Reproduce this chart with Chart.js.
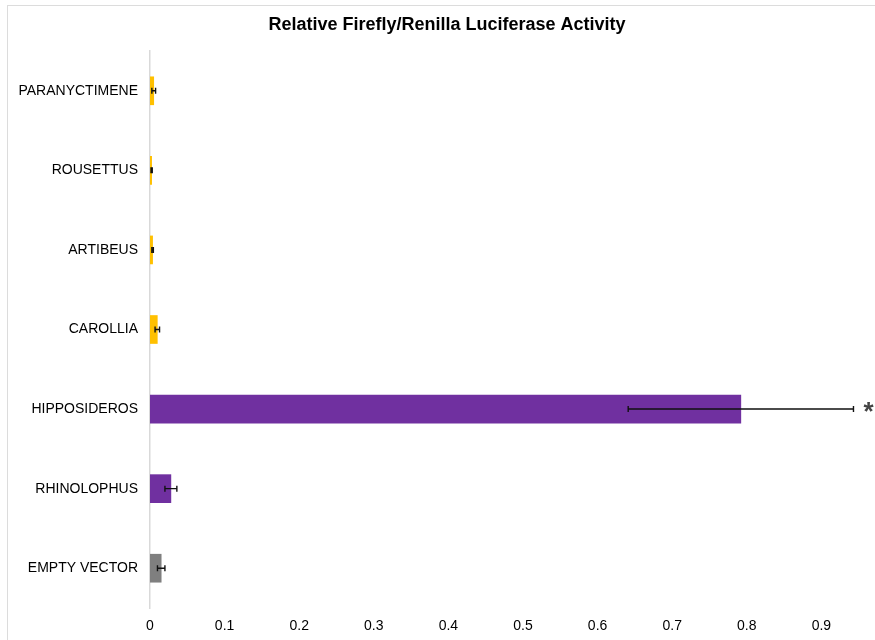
<!DOCTYPE html>
<html>
<head>
<meta charset="utf-8">
<script src="https://cdn.jsdelivr.net/npm/chart.js@4.4.0/dist/chart.umd.min.js"></script>
<style>
    html, body { margin: 0; padding: 0; background: #fff; overflow: hidden; }
    #wrap { position: relative; width: 875px; height: 640px; overflow: hidden; }
    #frame { position: absolute; left: 7px; top: 5px; width: 1000px; height: 700px;
             border-left: 1px solid #dcdcdc; border-top: 1px solid #dcdcdc; }
    #box { position: absolute; left: -20px; top: 0; width: 930px; height: 640px; }
</style>
</head>
<body>
<div id="wrap">
    <div id="frame"></div>
    <div id="box"><canvas id="chart"></canvas></div>
</div>
<script>
const categories = ['PARANYCTIMENE', 'ROUSETTUS', 'ARTIBEUS', 'CAROLLIA', 'HIPPOSIDEROS', 'RHINOLOPHUS', 'EMPTY VECTOR'];
const activity = [0.005, 0.0022, 0.0035, 0.0098, 0.792, 0.028, 0.015];
const errors = [0.0025, 0.0008, 0.001, 0.003, 0.151, 0.008, 0.005];
const significant = [false, false, false, false, true, false, false];
const barColors = ['#FFC000', '#FFC000', '#FFC000', '#FFC000', '#7030A0', '#7030A0', '#7F7F7F'];
const xTicks = [0, 0.1, 0.2, 0.3, 0.4, 0.5, 0.6, 0.7, 0.8, 0.9, 1];

// error bars + significance star, drawn from the scales
const errorBars = {
    id: 'errorBars',
    afterDatasetsDraw(chart) {
        const ctx = chart.ctx;
        const x = chart.scales.x;
        const meta = chart.getDatasetMeta(0);
        ctx.save();
        ctx.strokeStyle = '#111';
        ctx.lineWidth = 1.4;
        meta.data.forEach((bar, i) => {
            const y = bar.y;
            const lo = x.getPixelForValue(activity[i] - errors[i]);
            const hi = x.getPixelForValue(activity[i] + errors[i]);
            ctx.beginPath();
            ctx.moveTo(lo, y); ctx.lineTo(hi, y);
            ctx.moveTo(lo, y - 3); ctx.lineTo(lo, y + 3);
            ctx.moveTo(hi, y - 3); ctx.lineTo(hi, y + 3);
            ctx.stroke();
            if (significant[i]) {
                ctx.fillStyle = '#444';
                ctx.font = 'bold 26px "Liberation Sans", Arial, sans-serif';
                ctx.textAlign = 'center';
                ctx.textBaseline = 'alphabetic';
                ctx.fillText('*', hi + 15, y + 11);
            }
        });
        ctx.restore();
    }
};

new Chart(document.getElementById('chart'), {
    type: 'bar',
    data: {
        labels: categories,
        datasets: [{
            data: activity,
            backgroundColor: barColors,
            borderWidth: 0,
            barThickness: 28
        }]
    },
    options: {
        indexAxis: 'y',
        responsive: true,
        maintainAspectRatio: false,
        animation: false,
        layout: { padding: { left: 18, right: 14, top: 0, bottom: 0 } },
        plugins: {
            legend: { display: false },
            tooltip: { enabled: false },
            title: {
                display: true,
                text: 'Relative Firefly/Renilla Luciferase Activity',
                color: '#000',
                font: { family: '"Liberation Sans", Arial, sans-serif', size: 18, weight: 'bold' },
                padding: { top: 14, bottom: 15.4 }
            }
        },
        scales: {
            x: {
                min: 0,
                max: 1,
                afterBuildTicks: (scale) => { scale.ticks = xTicks.map(v => ({ value: v })); },
                afterFit: (scale) => { scale.height = 32; },
                grid: { display: false, drawTicks: false },
                border: { display: false },
                ticks: {
                    padding: 10,
                    color: '#000',
                    font: { family: '"Liberation Sans", Arial, sans-serif', size: 14 },
                    callback: (v) => String(+v.toFixed(1))
                }
            },
            y: {
                afterFit: (scale) => { scale.width = 152; },
                grid: { display: false, drawTicks: false },
                border: { display: true, color: '#d9d9d9', width: 1.5 },
                ticks: {
                    padding: 12,
                    color: '#000',
                    font: { family: '"Liberation Sans", Arial, sans-serif', size: 14 }
                }
            }
        }
    },
    plugins: [errorBars]
});
</script>
</body>
</html>
